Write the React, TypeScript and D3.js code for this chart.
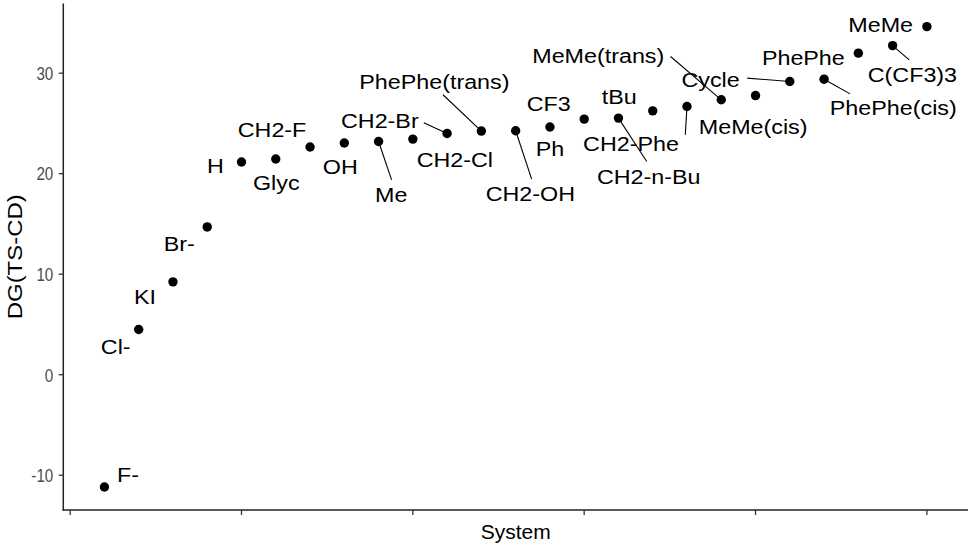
import * as d3 from "d3";

// systems ordered by DG(TS-CD), as plotted
const systems = [
  "F-", "Cl-", "KI", "Br-", "H", "Glyc", "CH2-F", "OH", "Me", "CH2-Cl",
  "CH2-Br", "PhePhe(trans)", "CH2-OH", "Ph", "CF3", "CH2-n-Bu", "tBu",
  "CH2-Phe", "MeMe(trans)", "MeMe(cis)", "Cycle", "PhePhe(cis)", "PhePhe",
  "C(CF3)3", "MeMe",
];

const dg = [
  -11.17, 4.5, 9.24, 14.7, 21.16, 21.46, 22.65, 23.05, 23.2, 23.44,
  24.0, 24.24, 24.27, 24.64, 25.43, 25.53, 26.25, 26.68, 27.35, 27.77,
  29.17, 29.4, 31.99, 32.74, 34.63,
];

const yTicks = [-10, 0, 10, 20, 30];
const xTicks = [0, 5, 10, 15, 20, 25];

// repel-style label placement (pixel nudges from each point) and segment ends
const labelNudge: [number, number][] = [
  [23.5, -12], [-23, 17], [-28, 15], [-28, 16.5], [-26, 3],
  [0.5, 23.5], [-38, -17.5], [-4, 23], [12.7, 53.3], [42, 20],
  [-67.3, -13], [-47, -49.3], [14.7, 63.2], [0, 21.9], [-35.5, -15.5],
  [30.3, 58.4], [-33.5, -14.3], [-56, 36.5], [-123, -44.5], [-2.4, 31],
  [-79.2, -2.2], [69.2, 28.2], [-55, 4.7], [19.8, 28.8], [-46.2, -2.5],
];

const segmentEnd: ([number, number] | null)[] = [
  null, null, null, null, null,
  null, null, null, [13, 38.3], null,
  [-23.3, -10.7], [-38.4, -36.3], [16, 48.3], null, null,
  [28.3, 43.4], null, [-1.7, 28.3], [-50.7, -43.3], null,
  [-42.7, -3.4], [26, 14.7], null, [16.6, 14.3], null,
];

const W = 971;
const H = 547;
const margin = { top: 3.6, right: 3, bottom: 37, left: 63.3 };

export default function App() {
  const n = dg.length;
  const xPad = (n - 1) * 0.05;
  const x = d3
    .scaleLinear()
    .domain([1 - xPad, n + xPad])
    .range([margin.left, W - margin.right]);

  const [lo, hi] = d3.extent(dg) as [number, number];
  const yPad = (hi - lo) * 0.05;
  const y = d3
    .scaleLinear()
    .domain([lo - yPad, hi + yPad])
    .range([H - margin.bottom, margin.top]);

  const x0 = margin.left;
  const x1 = W - margin.right;
  const y0 = H - margin.bottom;
  const labelSize = 21;
  const font = "'Liberation Sans', Arial, sans-serif";

  return (
    <svg
      width={W}
      height={H}
      style={{ position: "absolute", left: 0, top: 0, background: "#fff" }}
      fontFamily={font}
    >
      {/* axes */}
      <line x1={x0} x2={x0} y1={margin.top} y2={y0 + 0.7} stroke="#222" strokeWidth={1.5} />
      <line x1={x0 - 0.7} x2={x1} y1={y0} y2={y0} stroke="#222" strokeWidth={1.5} />

      {yTicks.map((t) => (
        <g key={"y" + t}>
          <line x1={x0 - 4.5} x2={x0} y1={y(t)} y2={y(t)} stroke="#333" strokeWidth={1.3} />
          <text
            transform={`translate(${x0 - 10},${y(t) + 6.8}) scale(0.8,1)`}
            textAnchor="end"
            fontSize={19}
            fill="#4D4D4D"
          >
            {t}
          </text>
        </g>
      ))}

      {xTicks.map((t) => (
        <line key={"x" + t} x1={x(t)} x2={x(t)} y1={y0} y2={y0 + 5} stroke="#333" strokeWidth={1.3} />
      ))}

      <text
        transform={`translate(${(x0 + x1) / 2},539) scale(1.05,1)`}
        textAnchor="middle"
        fontSize={20}
        fill="#000"
      >
        System
      </text>
      <text
        transform={`translate(22,${(margin.top + y0) / 2}) rotate(-90) scale(1.14,1)`}
        textAnchor="middle"
        fontSize={21}
        fill="#000"
      >
        DG(TS-CD)
      </text>

      {/* label segments */}
      {dg.map((v, i) => {
        const s = segmentEnd[i];
        if (!s) return null;
        const px = x(i + 1);
        const py = y(v);
        return (
          <line key={"s" + i} x1={px} y1={py} x2={px + s[0]} y2={py + s[1]} stroke="#000" strokeWidth={1.1} />
        );
      })}

      {/* points */}
      {dg.map((v, i) => (
        <circle key={"p" + i} cx={x(i + 1)} cy={y(v)} r={4.7} fill="#000" />
      ))}

      {/* labels */}
      {dg.map((v, i) => {
        const cx = x(i + 1) + labelNudge[i][0];
        const cy = y(v) + labelNudge[i][1] + labelSize * 0.358;
        return (
          <text
            key={"l" + i}
            transform={`translate(${cx},${cy}) scale(1.11,1)`}
            textAnchor="middle"
            fontSize={labelSize}
            fill="#000"
          >
            {systems[i]}
          </text>
        );
      })}
    </svg>
  );
}
